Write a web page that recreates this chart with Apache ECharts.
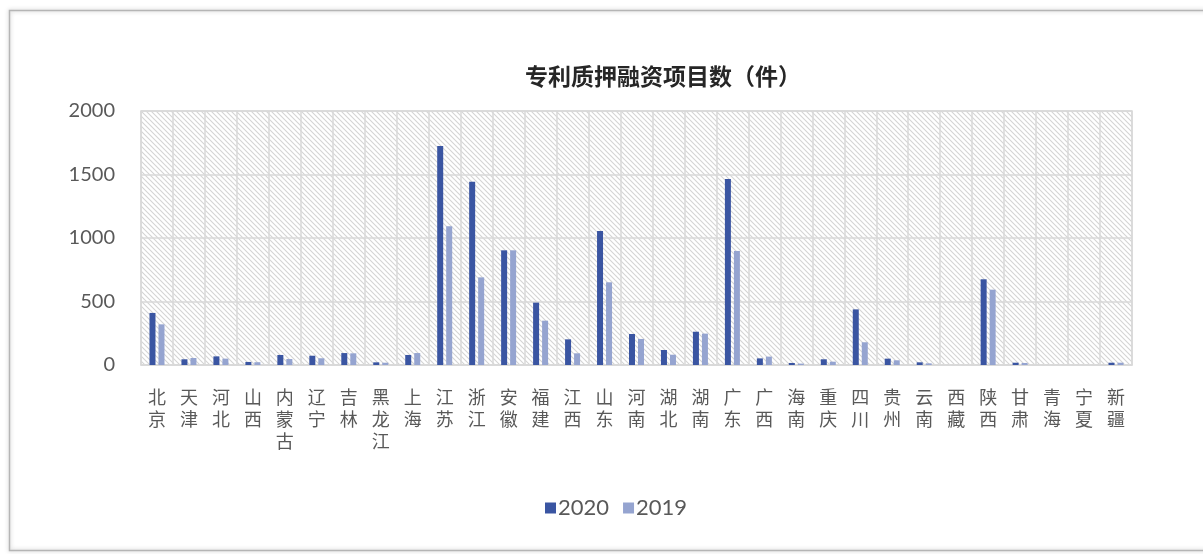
<!DOCTYPE html>
<html>
<head>
<meta charset="utf-8">
<script src="https://cdn.jsdelivr.net/npm/echarts@6/dist/echarts.min.js"></script>
<style>
  html, body { margin: 0; padding: 0; background: #ffffff; }
  #chart { width: 1203px; height: 554px; }
</style>
</head>
<body>
<div id="chart"></div>
<script>
// Provinces (labels stacked one character per line)
const provinces = ['北京','天津','河北','山西','内蒙古','辽宁','吉林','黑龙江','上海','江苏','浙江','安徽','福建','江西','山东','河南','湖北','湖南','广东','广西','海南','重庆','四川','贵州','云南','西藏','陕西','甘肃','青海','宁夏','新疆'];

// Patent pledge financing projects, 2020
const projects2020 = [410, 45, 68, 24, 79, 73, 94, 21, 79, 1724, 1443, 903, 491, 202, 1055, 244, 118, 262, 1465, 52, 16, 45, 438, 50, 21, 0, 675, 18, 0, 0, 18];
// Patent pledge financing projects, 2019
const projects2019 = [320, 55, 50, 22, 47, 53, 92, 18, 94, 1092, 690, 903, 349, 92, 651, 205, 81, 247, 898, 66, 11, 26, 179, 37, 13, 0, 593, 16, 0, 0, 18];

const seriesNames = ['2020', '2019'];
const yTicks = { min: 0, max: 2000, interval: 500 };

// Diagonal hatch tile for the plot background
function hatchTile() {
  const s = 5;
  const c = document.createElement('canvas');
  c.width = s; c.height = s;
  const g = c.getContext('2d');
  g.strokeStyle = '#d4d4d4';
  g.lineWidth = 1.1;
  g.beginPath();
  g.moveTo(-1, -1); g.lineTo(s + 1, s + 1);
  g.moveTo(-1, s - 1); g.lineTo(1, s + 1);
  g.moveTo(s - 1, -1); g.lineTo(s + 1, 1);
  g.stroke();
  return c;
}

const chart = echarts.init(document.getElementById('chart'), null, { renderer: 'canvas' });

const gridLine = '#d9d9d9';
const textColor = '#595959';

chart.setOption({
  backgroundColor: '#ffffff',
  animation: false,
  title: {
    text: '专利质押融资项目数（件）',
    left: 658,
    top: 60,
    textAlign: 'center',
    textStyle: {
      fontFamily: 'Noto Sans CJK SC',
      fontSize: 23,
      fontWeight: 'bold',
      color: '#262626'
    }
  },
  legend: {
    data: seriesNames,
    left: 540,
    top: 492,
    itemWidth: 11,
    itemHeight: 11,
    itemGap: 14,
    icon: 'rect',
    textStyle: { fontFamily: 'Lato', fontSize: 22, color: textColor, padding: [0, 0, 0, -3] }
  },
  grid: {
    left: 141,
    right: 71,
    top: 111,
    bottom: 189,
    show: true,
    borderColor: gridLine,
    borderWidth: 1.5,
    backgroundColor: { image: hatchTile(), repeat: 'repeat' }
  },
  graphic: [{
    type: 'rect',
    shape: { x: 9.5, y: 10.5, width: 1200, height: 540 },
    style: {
      fill: 'none',
      stroke: '#b5b5b5',
      lineWidth: 1.5,
      shadowBlur: 4,
      shadowColor: 'rgba(0,0,0,0.25)'
    },
    silent: true,
    z: 100
  }],
  xAxis: {
    type: 'category',
    data: provinces,
    boundaryGap: true,
    axisLine: { show: true, lineStyle: { color: gridLine, width: 1.5 } },
    axisTick: { show: false },
    splitLine: { show: true, interval: 0, lineStyle: { color: gridLine, width: 1.5 } },
    axisLabel: {
      interval: 0,
      margin: 21,
      fontFamily: 'Noto Sans CJK SC',
      fontSize: 18,
      lineHeight: 22,
      color: textColor,
      formatter: v => v.split('').join('\n')
    }
  },
  yAxis: {
    type: 'value',
    min: yTicks.min,
    max: yTicks.max,
    interval: yTicks.interval,
    axisLine: { show: false },
    axisTick: { show: false },
    splitLine: { show: true, lineStyle: { color: gridLine, width: 1.5 } },
    axisLabel: {
      margin: 26,
      fontFamily: 'Lato',
      fontSize: 20,
      color: textColor,
      formatter: v => String(v)
    }
  },
  series: [
    {
      name: seriesNames[0],
      type: 'bar',
      data: projects2020,
      barWidth: 6,
      barGap: '50%',
      itemStyle: { color: '#3A55A2' }
    },
    {
      name: seriesNames[1],
      type: 'bar',
      data: projects2019,
      barWidth: 6,
      itemStyle: { color: '#95A4D0' }
    }
  ]
});
</script>
</body>
</html>
